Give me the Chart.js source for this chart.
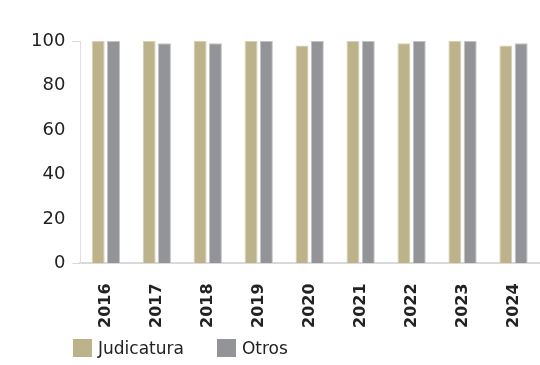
<!DOCTYPE html>
<html>
<head>
<meta charset="utf-8">
<script src="https://cdn.jsdelivr.net/npm/chart.js@4"></script>
<style>
  html, body { margin: 0; padding: 0; background: #fff; }
  #wrap { width: 540px; height: 365px; position: relative; }
  #legend { position: absolute; left: 73px; top: 338px; font: 17px "DejaVu Sans", sans-serif; color: #222; white-space: nowrap; }
  #legend span { display: inline-block; margin-right: 33px; }
  #legend i { display: inline-block; width: 19px; height: 18px; vertical-align: -3px; margin-right: 6px; }
</style>
</head>
<body>
<div id="wrap">
  <canvas id="chart"></canvas>
  <div id="legend"></div>
</div>
<script>
const years = ['2016','2017','2018','2019','2020','2021','2022','2023','2024'];
const judicatura = [100, 100, 100, 100, 98, 100, 99, 100, 98];
const otros = [100, 99, 99, 100, 100, 100, 100, 100, 99];
const yTicks = [0, 20, 40, 60, 80, 100];
const seriesNames = ['Judicatura', 'Otros'];
const seriesColors = ['#bcb38a', '#939498'];
const seriesEdges = ['#d6d0b4', '#c2c3c5'];

const font = '"DejaVu Sans", sans-serif';

const chart = new Chart(document.getElementById('chart'), {
  type: 'bar',
  data: {
    labels: years,
    datasets: [judicatura, otros].map((vals, i) => ({
      label: seriesNames[i],
      data: vals,
      backgroundColor: seriesColors[i],
      borderColor: seriesEdges[i],
      borderWidth: { left: 1, right: 1, top: 1, bottom: 0 },
      barPercentage: 0.85,
      categoryPercentage: 0.6
    }))
  },
  options: {
    responsive: true, maintainAspectRatio: false,
    animation: false,
    layout: { padding: { left: 24, right: 1, top: 41, bottom: 25 } },
    plugins: {
      tooltip: { enabled: false },
      legend: { display: false }
    },
    scales: {
      x: {
        // let the plot run right to the edge
        afterFit: s => { s.paddingRight = 0; },
        grid: { display: false },
        border: { color: '#d9d9d9', width: 2 },
        ticks: {
          color: '#222', maxRotation: 90, minRotation: 90, padding: 12,
          font: { family: font, size: 16, weight: 'bold' }
        }
      },
      y: {
        min: 0, max: 100,
        afterBuildTicks: axis => { axis.ticks = yTicks.map(v => ({ value: v })); },
        grid: {
          drawOnChartArea: false, tickLength: 8,
          color: ctx => (ctx.tick && (ctx.tick.value === 0 || ctx.tick.value === 100)) ? '#d9d9d9' : 'rgba(0,0,0,0)'
        },
        border: { color: '#e0e0e0', width: 1 },
        ticks: {
          color: '#222', padding: 7,
          font: { family: font, size: 18 }
        }
      }
    }
  }
});

// legend drawn as html under the chart
document.getElementById('legend').innerHTML = chart.data.datasets
  .map(ds => '<span><i style="background:' + ds.backgroundColor + '"></i>' + ds.label + '</span>')
  .join('');
</script>
</body>
</html>
